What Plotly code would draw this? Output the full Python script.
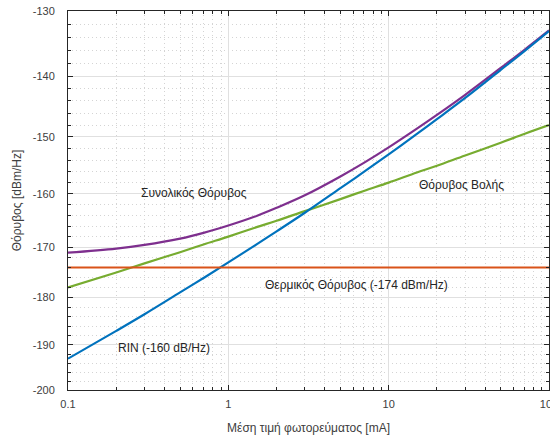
import math
import plotly.graph_objects as go

# photocurrent [mA]
current_mA = [0.1, 0.2, 0.3, 0.5, 0.7, 1, 1.5, 2, 3, 5, 7, 10, 15, 20, 30, 50, 70, 100]
# noise levels [dBm/Hz]
total_noise = [-171.1, -170.3, -169.6, -168.4, -167.3, -165.9, -164.1, -162.6, -160.3,
               -156.9, -154.5, -151.8, -148.6, -146.3, -143.0, -138.7, -135.9, -132.9]
shot_noise = [-178, -175, -173.2, -171, -169.5, -168, -166.2, -165, -163.2,
              -161, -159.5, -158, -156.2, -155, -153.2, -151, -149.5, -148]
rin_noise = [-193, -187, -183.5, -179, -176.1, -173, -169.5, -167, -163.5,
             -159, -156.1, -153, -149.5, -147, -143.5, -139, -136.1, -133]
thermal_noise = [-174] * len(current_mA)

y_major = [-130, -140, -150, -160, -170, -180, -190, -200]
y_minor = [v for v in range(-130, -201, -2) if v % 10 != 0]
x_major = [0.1, 1, 10, 100]
x_major_text = ["0.1", "1", "10", "100"]
x_minor = [m * d for d in (0.1, 1, 10) for m in range(2, 10)]

labels = [
    ("Συνολικός Θόρυβος", 0.61, -159.8),
    ("Θόρυβος Βολής", 28.4, -158.4),
    ("Θερμικός Θόρυβος (-174 dBm/Hz)", 6.32, -177.5),
    ("RIN (-160 dB/Hz)", 0.398, -190.6),
]

series = [
    (total_noise, "#7E2F8E"),
    (shot_noise, "#77AC30"),
    (rin_noise, "#0072BD"),
    (thermal_noise, "#D95319"),
]

fig = go.Figure()
for vals, col in series:
    fig.add_trace(go.Scatter(
        x=current_mA, y=[-v for v in vals], mode="lines",
        line=dict(color=col, width=2.2, shape="spline", smoothing=1.0),
        showlegend=False, hoverinfo="skip"))

font_family = "Liberation Sans, Arial, sans-serif"
for text, xv, yv in labels:
    fig.add_annotation(x=math.log10(xv), y=math.log10(-yv), xref="x", yref="y",
                       text=text, showarrow=False, xanchor="center", yanchor="middle",
                       font=dict(family=font_family, size=12, color="#262626"))

axis_common = dict(
    showline=True, linecolor="#262626", linewidth=1, mirror="ticks",
    ticks="inside", ticklen=5, tickcolor="#262626",
    showgrid=True, gridcolor="#e0e0e0", gridwidth=1, zeroline=False,
    tickfont=dict(family=font_family, size=11, color="#404040"),
    automargin=False,
)

minor_common = dict(ticks="inside", ticklen=3, tickcolor="#262626", showgrid=True,
                    gridcolor="#d4d4d4", griddash="1px,3px", gridwidth=1)

fig.update_xaxes(
    type="log", range=[-1, 2], tickmode="array", tickvals=x_major, ticktext=x_major_text,
    ticklabelstandoff=4, ticklabeloverflow="allow",
    minor=dict(tickmode="array", tickvals=x_minor, **minor_common),
    title=dict(text="Μέση τιμή φωτορεύματος [mA]",
               font=dict(family=font_family, size=12, color="#404040"), standoff=14),
    **axis_common)

fig.update_yaxes(
    type="log", range=[math.log10(200), math.log10(130)], tickmode="array",
    tickvals=[-v for v in y_major], ticktext=[str(v) for v in y_major],
    ticklabelstandoff=10,
    minor=dict(tickmode="array", tickvals=[-v for v in y_minor], **minor_common),
    title=dict(text="Θόρυβος [dBm/Hz]",
               font=dict(family=font_family, size=12, color="#404040"), standoff=8),
    **axis_common)

fig.update_layout(
    width=550, height=440,
    margin=dict(l=68, r=1, t=11, b=50),
    paper_bgcolor="white", plot_bgcolor="white",
)

fig.write_html("out.html")
